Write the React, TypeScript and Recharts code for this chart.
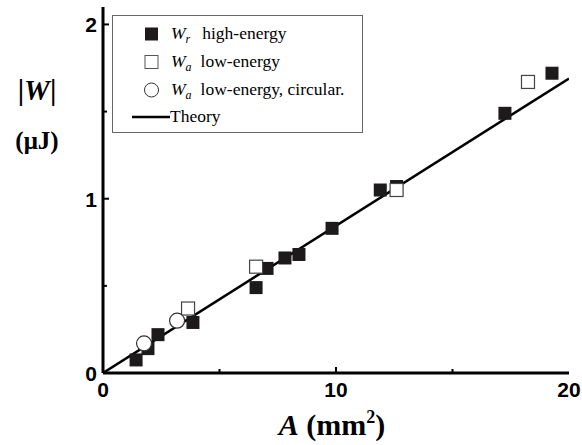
import React from 'react';
import { ScatterChart, Scatter, XAxis, YAxis } from 'recharts';

// Wr high-energy (filled squares)
const highX = [1.42, 1.93, 2.36, 3.86, 6.57, 7.04, 7.81, 8.41, 9.83, 11.9, 12.6, 17.25, 19.27];
const highY = [0.075, 0.14, 0.22, 0.29, 0.49, 0.6, 0.66, 0.68, 0.83, 1.05, 1.07, 1.49, 1.72];
// Wa low-energy (open squares)
const lowX = [3.65, 6.57, 12.6, 18.24];
const lowY = [0.37, 0.61, 1.05, 1.67];
// Wa low-energy, circular (open circles)
const circX = [1.76, 3.18];
const circY = [0.17, 0.3];
// theory line
const theoryX = [0, 20];
const theoryY = [0, 1.69];

const xTicks = [0, 5, 10, 15, 20];
const xLabels = [0, 10, 20];
const yTicks = [0, 0.5, 1, 1.5, 2];
const yLabels = [0, 1, 2];

const toPoints = (xs: number[], ys: number[]) => xs.map((x, i) => ({ x, y: ys[i] }));

const highData = toPoints(highX, highY);
const lowData = toPoints(lowX, lowY);
const circData = toPoints(circX, circY);
const theoryData = toPoints(theoryX, theoryY);

const tickFont = { fontFamily: '"Liberation Sans", Arial, sans-serif', fontWeight: 'bold' as const, fontSize: 21 };
const serif = '"Liberation Serif", "Times New Roman", serif';

const BottomTick = (props: any) => {
  const { x, y, payload } = props;
  const v = payload.value;
  const major = xLabels.includes(v);
  const len = major ? 6 : 4;
  return (
    <g>
      {v !== 0 && v !== 20 && <line x1={x} x2={x} y1={y} y2={y - len} stroke="#000" strokeWidth={2} />}
      {major && (
        <text x={x} y={y + 24} textAnchor="middle" {...tickFont} fill="#000">
          {v}
        </text>
      )}
    </g>
  );
};

const TopTick = (props: any) => {
  const { x, y, payload } = props;
  const v = payload.value;
  if (v === 0 || v === 20) return <g />;
  const len = xLabels.includes(v) ? 6 : 4;
  return <line x1={x} x2={x} y1={y} y2={y + len} stroke="#000" strokeWidth={2} />;
};

const LeftTick = (props: any) => {
  const { x, y, payload } = props;
  const v = payload.value;
  const major = yLabels.includes(v);
  const len = major ? 6 : 4;
  return (
    <g>
      {v !== 0 && <line x1={x} x2={x + len} y1={y} y2={y} stroke="#000" strokeWidth={2} />}
      {major && (
        <text x={x - 6} y={y + 8} textAnchor="end" {...tickFont} fill="#000">
          {v}
        </text>
      )}
    </g>
  );
};

const RightTick = (props: any) => {
  const { x, y, payload } = props;
  const v = payload.value;
  if (v === 0) return <g />;
  const len = yLabels.includes(v) ? 6 : 4;
  return <line x1={x} x2={x - len} y1={y} y2={y} stroke="#000" strokeWidth={2} />;
};

const FilledSquare = (props: any) => (
  <rect x={props.cx - 6.5} y={props.cy - 6.5} width={13} height={13} fill="#1c1a1b" />
);
const OpenSquare = (props: any) => (
  <rect x={props.cx - 6.5} y={props.cy - 6.5} width={13} height={13} fill="#fff" stroke="#444" strokeWidth={1.2} />
);
const OpenCircle = (props: any) => (
  <circle cx={props.cx} cy={props.cy} r={7.5} fill="#fff" stroke="#333" strokeWidth={1.2} />
);
const NoShape = () => <g />;

const XTitle = (props: any) => {
  const { viewBox } = props;
  const cx = viewBox.x + viewBox.width / 2 - 4;
  return (
    <text x={cx} y={viewBox.y + 62} textAnchor="middle" fontFamily={serif} fontWeight="bold" fontSize={30} fill="#000">
      <tspan fontStyle="italic">A</tspan>
      <tspan> (mm</tspan>
      <tspan fontSize={18} dy={-12}>2</tspan>
      <tspan dy={12}>)</tspan>
    </text>
  );
};

const YTitle = (props: any) => {
  const { viewBox } = props;
  const cx = viewBox.x + 34;
  return (
    <g fontFamily={serif} fontWeight="bold" fill="#000">
      <text x={cx} y={100} textAnchor="middle" fontSize={29}>
        <tspan>|</tspan>
        <tspan fontStyle="italic">W</tspan>
        <tspan>|</tspan>
      </text>
      <text x={cx} y={149} textAnchor="middle" fontSize={25}>
        (μJ)
      </text>
    </g>
  );
};

const LegendBox = () => {
  const rowY = [19, 47, 75, 102];
  return (
    <svg width={252} height={119} style={{ display: 'block' }}>
      <rect x={0.5} y={0.5} width={250} height={117} fill="#fff" stroke="#666" strokeWidth={1} />
      <g fontFamily={serif} fontSize={17.5} fill="#000">
        <rect x={33} y={rowY[0] - 6.5} width={13} height={13} fill="#1c1a1b" />
        <text x={59} y={rowY[0] + 5}>
          <tspan fontStyle="italic">W</tspan>
          <tspan fontStyle="italic" fontSize={12} dy={4}>r</tspan>
          <tspan dx={12} dy={-4}>high-energy</tspan>
        </text>
        <rect x={33} y={rowY[1] - 6.5} width={13} height={13} fill="#fff" stroke="#555" strokeWidth={1} />
        <text x={59} y={rowY[1] + 5}>
          <tspan fontStyle="italic">W</tspan>
          <tspan fontStyle="italic" fontSize={12} dy={4}>a</tspan>
          <tspan dx={9} dy={-4}>low-energy</tspan>
        </text>
        <circle cx={39.5} cy={rowY[2]} r={7} fill="#fff" stroke="#333" strokeWidth={1} />
        <text x={59} y={rowY[2] + 5}>
          <tspan fontStyle="italic">W</tspan>
          <tspan fontStyle="italic" fontSize={12} dy={4}>a</tspan>
          <tspan dx={9} dy={-4}>low-energy, circular.</tspan>
        </text>
        <line x1={20} x2={58} y1={rowY[3]} y2={rowY[3]} stroke="#000" strokeWidth={2.5} />
        <text x={58} y={rowY[3] + 5}>Theory</text>
      </g>
    </svg>
  );
};

export default function App() {
  return (
    <div style={{ position: 'absolute', left: 0, top: 0, width: 582, height: 445, background: '#fff' }}>
      <ScatterChart width={582} height={445} margin={{ top: 7, right: 13, bottom: 0, left: 3 }}>
        <XAxis
          xAxisId="b"
          dataKey="x"
          type="number"
          domain={[0, 20]}
          ticks={xTicks}
          allowDataOverflow
          height={72}
          tickSize={0}
          tickMargin={0}
          tickLine={false}
          axisLine={{ stroke: '#000', strokeWidth: 3 }}
          tick={<BottomTick />}
          label={<XTitle />}
        />
        <XAxis
          xAxisId="t"
          orientation="top"
          dataKey="x"
          type="number"
          domain={[0, 20]}
          ticks={xTicks}
          allowDataOverflow
          height={0}
          tickSize={0}
          tickMargin={0}
          tickLine={false}
          axisLine={{ stroke: '#000', strokeWidth: 3 }}
          tick={<TopTick />}
        />
        <YAxis
          yAxisId="l"
          dataKey="y"
          type="number"
          domain={[0, 2.1]}
          ticks={yTicks}
          allowDataOverflow
          width={100}
          tickSize={0}
          tickMargin={0}
          tickLine={false}
          axisLine={{ stroke: '#000', strokeWidth: 3 }}
          tick={<LeftTick />}
          label={<YTitle />}
        />
        <YAxis
          yAxisId="r"
          orientation="right"
          dataKey="y"
          type="number"
          domain={[0, 2.1]}
          ticks={yTicks}
          allowDataOverflow
          width={0}
          tickSize={0}
          tickMargin={0}
          tickLine={false}
          axisLine={{ stroke: '#000', strokeWidth: 3 }}
          tick={<RightTick />}
        />
        <Scatter
          xAxisId="t"
          yAxisId="r"
          data={theoryData}
          line={{ stroke: '#000', strokeWidth: 2.5 }}
          shape={<NoShape />}
          isAnimationActive={false}
        />
        <Scatter xAxisId="b" yAxisId="l" data={highData} shape={<FilledSquare />} isAnimationActive={false} />
        <Scatter xAxisId="b" yAxisId="l" data={lowData} shape={<OpenSquare />} isAnimationActive={false} />
        <Scatter xAxisId="b" yAxisId="l" data={circData} shape={<OpenCircle />} isAnimationActive={false} />
      </ScatterChart>
      <div style={{ position: 'absolute', left: 112, top: 15 }}>
        <LegendBox />
      </div>
    </div>
  );
}
